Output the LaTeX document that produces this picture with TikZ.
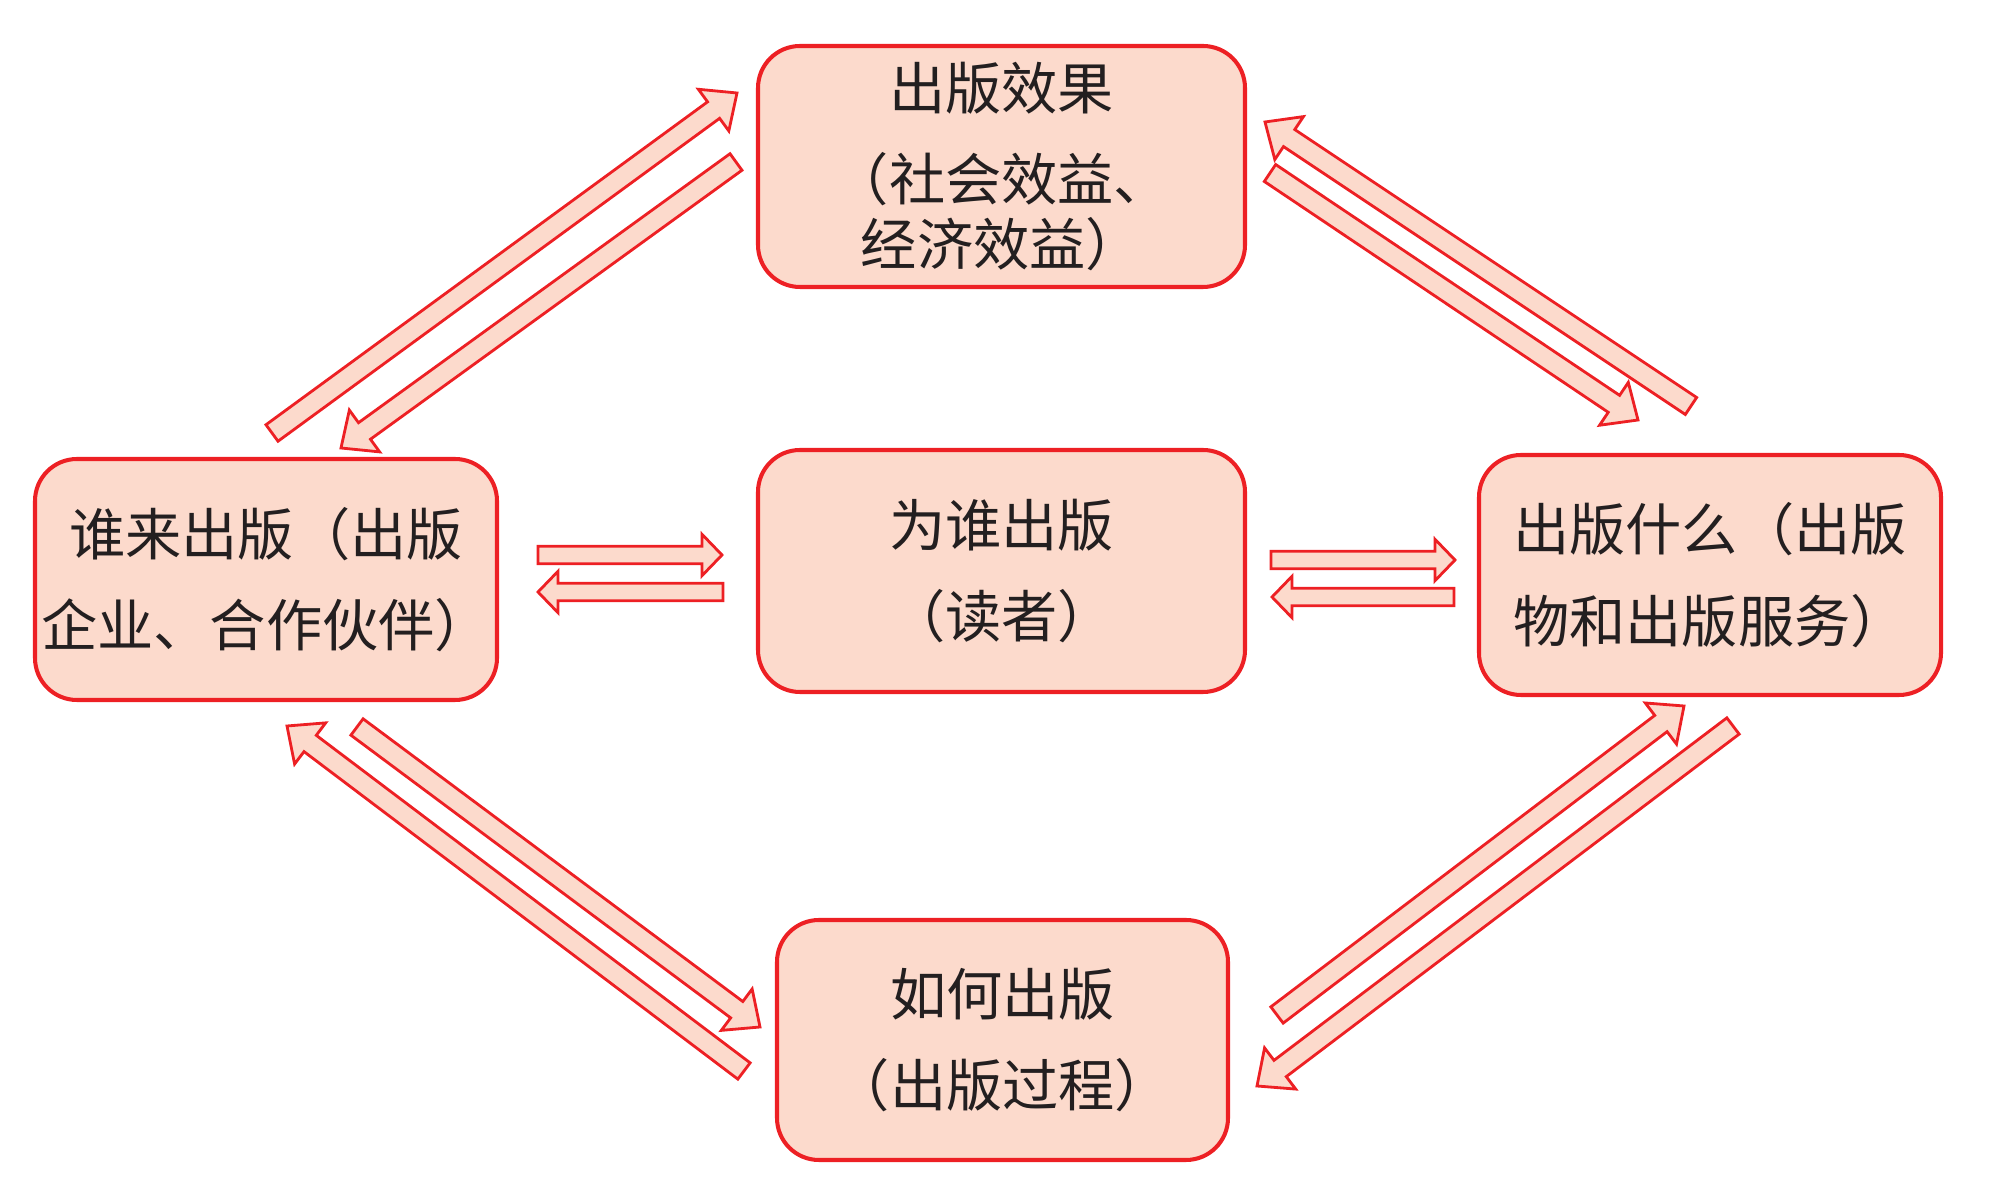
\documentclass[tikz,border=0pt]{standalone}
\usepackage{fontspec}
\newfontfamily\cjk{Noto Sans CJK SC}
\usepackage{tikz}
\usetikzlibrary{calc}

\definecolor{boxred}{RGB}{237,32,36}
\definecolor{boxfill}{RGB}{252,218,204}
\definecolor{inktext}{RGB}{35,31,32}

% block arrow: from, to, shaft half width, head half width, head length
\newcommand{\blockarrow}[5]{%
  \coordinate (hb) at ($(#2)!#5!(#1)$);
  \draw[barrow] ($(#1)!#3!90:(#2)$) -- ($(hb)!#3!90:(#2)$) -- ($(hb)!#4!90:(#2)$) -- (#2)
    -- ($(hb)!#4!-90:(#2)$) -- ($(hb)!#3!-90:(#2)$) -- ($(#1)!#3!-90:(#2)$) -- cycle;}
\newcommand{\harrow}[2]{\blockarrow{#1}{#2}{0.088cm}{0.207cm}{0.20cm}}
\newcommand{\darrow}[2]{\blockarrow{#1}{#2}{0.102cm}{0.258cm}{0.29cm}}

\begin{document}
\begin{tikzpicture}[
    every node/.style={font=\fontsize{16pt}{26pt}\cjk, text=inktext},
    box/.style={draw=boxred, fill=boxfill, line width=1.15pt, rounded corners=4.2mm,
                align=center, inner sep=0pt},
    barrow/.style={draw=boxred, fill=boxfill, line width=0.8pt},
  ]
    \useasboundingbox (0,0) rectangle (20,11.92);

    % --- Boxes ---
    \node[box, minimum width=4.87cm, minimum height=2.41cm] (effect) at (10.015,10.255)
      {出版效果\\（社会效益、\\[-7.5pt]经济效益）};
    \node[box, minimum width=4.87cm, minimum height=2.42cm] (reader) at (10.015,6.21)
      {为谁出版\\（读者）};
    \node[box, minimum width=4.62cm, minimum height=2.41cm] (who) at (2.66,6.125)
      {谁来出版（出版\\企业、合作伙伴）};
    \node[box, minimum width=4.62cm, minimum height=2.40cm] (what) at (17.10,6.17)
      {出版什么（出版\\物和出版服务）};
    \node[box, minimum width=4.51cm, minimum height=2.40cm] (how) at (10.025,1.52)
      {如何出版\\（出版过程）};

    % --- Arrow ends ---
    \coordinate (who-effect-s)  at (2.72,7.59);   \coordinate (who-effect-t)  at (7.37,10.99);
    \coordinate (effect-who-s)  at (7.36,10.30);  \coordinate (effect-who-t)  at (3.41,7.44);
    \coordinate (what-effect-s) at (16.91,7.86);  \coordinate (what-effect-t) at (12.65,10.70);
    \coordinate (effect-what-s) at (12.70,10.19); \coordinate (effect-what-t) at (16.38,7.72);
    \coordinate (how-who-s)     at (7.44,1.21);   \coordinate (how-who-t)     at (2.87,4.66);
    \coordinate (who-how-s)     at (3.57,4.65);   \coordinate (who-how-t)     at (7.60,1.65);
    \coordinate (how-what-s)    at (12.77,1.77);  \coordinate (how-what-t)    at (16.84,4.86);
    \coordinate (what-how-s)    at (17.33,4.66);  \coordinate (what-how-t)    at (12.57,1.06);
    \coordinate (who-reader-s)  at (5.38,6.37);   \coordinate (who-reader-t)  at (7.22,6.37);
    \coordinate (reader-who-s)  at (7.23,6.00);   \coordinate (reader-who-t)  at (5.38,6.00);
    \coordinate (reader-what-s) at (12.71,6.32);  \coordinate (reader-what-t) at (14.55,6.32);
    \coordinate (what-reader-s) at (14.54,5.95);  \coordinate (what-reader-t) at (12.72,5.95);

    % --- Diagonal arrows ---
    \darrow{who-effect-s}{who-effect-t}
    \darrow{effect-who-s}{effect-who-t}
    \darrow{what-effect-s}{what-effect-t}
    \darrow{effect-what-s}{effect-what-t}
    \darrow{how-who-s}{how-who-t}
    \darrow{who-how-s}{who-how-t}
    \darrow{how-what-s}{how-what-t}
    \darrow{what-how-s}{what-how-t}

    % --- Horizontal arrows ---
    \harrow{who-reader-s}{who-reader-t}
    \harrow{reader-who-s}{reader-who-t}
    \harrow{reader-what-s}{reader-what-t}
    \harrow{what-reader-s}{what-reader-t}
  \end{tikzpicture}
\end{document}
